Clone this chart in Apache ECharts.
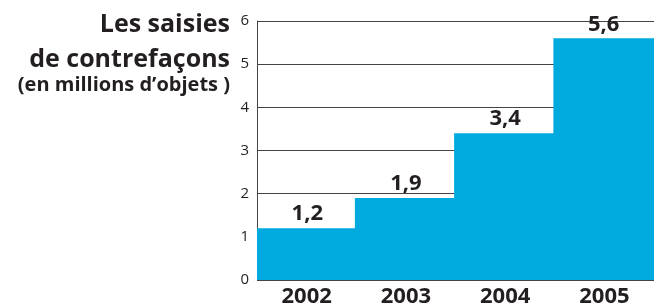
<!DOCTYPE html>
<html>
<head>
<meta charset="utf-8">
<script src="https://cdn.jsdelivr.net/npm/echarts@6/dist/echarts.min.js"></script>
<style>
  html, body { margin: 0; padding: 0; background: #fff; }
  #chart { width: 654px; height: 308px; }
</style>
</head>
<body>
<div id="chart"></div>
<script>
const years = ['2002', '2003', '2004', '2005']
const seizures = [1.2, 1.9, 3.4, 5.6]
const valueLabels = ['1,2', '1,9', '3,4', '5,6']
const titleLines = ['Les saisies', 'de contrefaçons', '(en millions d\u2019objets )']

const FONT = '"Open Sans", "Noto Sans", sans-serif'
const INK = '#231f20'
const BAR_COLOR = '#00aade'

const chart = echarts.init(document.getElementById('chart'), null, { renderer: 'canvas' })

chart.setOption({
  animation: false,
  title: [
    { text: titleLines[0], left: 225, top: 7, textAlign: 'right',
      textStyle: { fontFamily: FONT, fontWeight: 'bold', fontSize: 25, color: INK } },
    { text: titleLines[1], left: 225, top: 42, textAlign: 'right',
      textStyle: { fontFamily: FONT, fontWeight: 'bold', fontSize: 25, color: INK } },
    { text: titleLines[2], left: 225, top: 70, textAlign: 'right',
      textStyle: { fontFamily: FONT, fontWeight: 'bold', fontSize: 20, color: INK } },
  ],
  grid: { left: 257, right: -3, top: 21, bottom: 26, containLabel: false },
  xAxis: {
    type: 'category',
    data: years,
    axisLine: { show: false },
    axisTick: { show: false },
    axisLabel: {
      fontFamily: FONT, fontWeight: 'bold', fontSize: 22, color: INK, margin: 6,
    },
  },
  yAxis: {
    type: 'value',
    min: 0,
    max: 6,
    interval: 1,
    axisLine: { show: true, lineStyle: { color: '#444', width: 1 } },
    axisTick: { show: false },
    axisLabel: { fontFamily: FONT, fontSize: 15, color: INK, margin: 8 },
    splitLine: { lineStyle: { color: '#444', width: 1 } },
  },
  series: [{
    type: 'bar',
    data: seizures,
    barWidth: 102,
    itemStyle: { color: BAR_COLOR },
    label: {
      show: true,
      position: 'top',
      distance: 3,
      formatter: (p) => valueLabels[p.dataIndex],
      fontFamily: FONT, fontWeight: 'bold', fontSize: 22, color: INK,
    },
  }],
})
</script>
</body>
</html>
